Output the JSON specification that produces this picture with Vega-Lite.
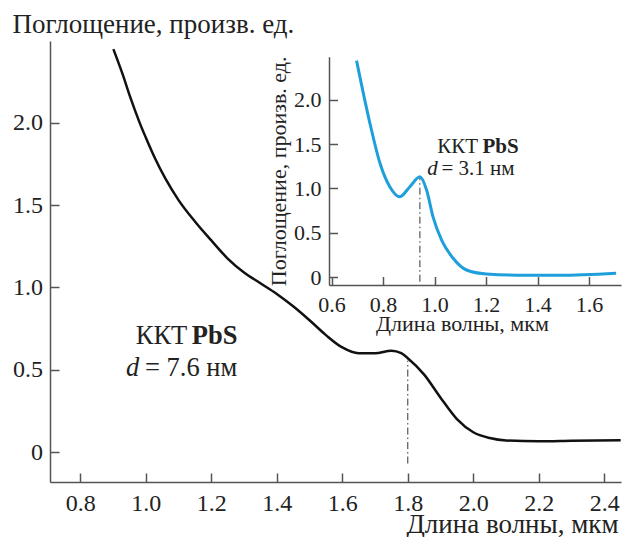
{
  "$schema": "https://vega.github.io/schema/vega-lite/v6.json",
  "width": 571,
  "height": 441,
  "autosize": {"type": "none"},
  "padding": {"left": 50, "top": 41, "right": 3, "bottom": 55},
  "background": "white",
  "config": {
    "view": {"stroke": null},
    "font": "Liberation Serif, DejaVu Serif, serif",
    "text": {"font": "Liberation Serif, DejaVu Serif, serif"},
    "axis": {
      "grid": false,
      "domainColor": "#555555",
      "tickColor": "#555555",
      "domainWidth": 1.5,
      "tickWidth": 1.5,
      "labelColor": "#222222",
      "titleColor": "#222222",
      "titleFontWeight": "normal",
      "labelFont": "Liberation Serif, DejaVu Serif, serif",
      "titleFont": "Liberation Serif, DejaVu Serif, serif"
    }
  },
  "datasets": {
    "main": [
      {"x": 0.901, "y": 2.447},
      {"x": 0.93, "y": 2.29},
      {"x": 0.952, "y": 2.158},
      {"x": 0.982, "y": 1.996},
      {"x": 1.0, "y": 1.91},
      {"x": 1.028, "y": 1.784},
      {"x": 1.06, "y": 1.66},
      {"x": 1.1, "y": 1.53},
      {"x": 1.15, "y": 1.4},
      {"x": 1.2, "y": 1.285},
      {"x": 1.25, "y": 1.175},
      {"x": 1.3, "y": 1.09},
      {"x": 1.35, "y": 1.025},
      {"x": 1.4, "y": 0.96},
      {"x": 1.45, "y": 0.885},
      {"x": 1.5, "y": 0.8},
      {"x": 1.55, "y": 0.71},
      {"x": 1.6, "y": 0.635},
      {"x": 1.65, "y": 0.6},
      {"x": 1.7, "y": 0.6},
      {"x": 1.75, "y": 0.615},
      {"x": 1.78, "y": 0.6},
      {"x": 1.8, "y": 0.57},
      {"x": 1.85, "y": 0.47},
      {"x": 1.9, "y": 0.33},
      {"x": 1.95, "y": 0.2},
      {"x": 2.0, "y": 0.12},
      {"x": 2.05, "y": 0.085},
      {"x": 2.1, "y": 0.07},
      {"x": 2.2, "y": 0.065},
      {"x": 2.3, "y": 0.068},
      {"x": 2.45, "y": 0.072}
    ],
    "inset": [
      {"x": 0.697, "y": 2.44},
      {"x": 0.749, "y": 1.734},
      {"x": 0.788, "y": 1.284},
      {"x": 0.826, "y": 1.02},
      {"x": 0.865, "y": 0.908},
      {"x": 0.904, "y": 1.02},
      {"x": 0.943, "y": 1.133},
      {"x": 0.969, "y": 0.983},
      {"x": 0.994, "y": 0.68},
      {"x": 1.027, "y": 0.42},
      {"x": 1.072, "y": 0.214},
      {"x": 1.124, "y": 0.082},
      {"x": 1.201, "y": 0.037},
      {"x": 1.356, "y": 0.022},
      {"x": 1.485, "y": 0.022},
      {"x": 1.705, "y": 0.045}
    ]
  },
  "layer": [
    {
      "layer": [
        {
          "data": {"name": "main"},
          "mark": {"type": "line", "color": "#111111", "strokeWidth": 2.5, "interpolate": "monotone"},
          "encoding": {
            "x": {
              "field": "x", "type": "quantitative",
              "scale": {"domain": [0.7075, 2.451], "zero": false, "nice": false},
              "axis": {
                "orient": "bottom",
                "values": [0.8, 1.0, 1.2, 1.4, 1.6, 1.8, 2.0, 2.2, 2.4],
                "format": ".1f",
                "tickSize": -9,
                "labelPadding": 18,
                "labelFontSize": 24,
                "title": "Длина волны, мкм",
                "titleFontSize": 27,
                "titleAlign": "right",
                "titleAnchor": null,
                "titleBaseline": "alphabetic",
                "titleX": 568,
                "titleY": 50
              }
            },
            "y": {
              "field": "y", "type": "quantitative",
              "scale": {"domain": [-0.182, 2.496], "zero": false, "nice": false},
              "axis": {
                "orient": "left",
                "values": [0, 0.5, 1.0, 1.5, 2.0],
                "labelExpr": "datum.value === 0 ? '0' : format(datum.value, '.1f')",
                "tickSize": -9,
                "labelPadding": 16.5,
                "labelFontSize": 24,
                "title": "Поглощение, произв. ед.",
                "titleFontSize": 27,
                "titleAngle": 0,
                "titleAlign": "left",
                "titleBaseline": "alphabetic",
                "titleX": -38,
                "titleY": -9
              }
            }
          }
        },
        {
          "data": {"values": [{"x": 1.8, "y": -0.07, "y2": 0.555}]},
          "mark": {"type": "rule", "color": "#333333", "strokeWidth": 1, "strokeDash": [7, 3, 1.5, 3]},
          "encoding": {
            "x": {"field": "x", "type": "quantitative"},
            "y": {"field": "y", "type": "quantitative"},
            "y2": {"field": "y2"}
          }
        },
        {
          "data": {"values": [{"x": 1.1267, "y": 0.6553, "label": "ККТ"}]},
          "mark": {"type": "text", "align": "right", "baseline": "alphabetic", "fontSize": 26.5, "color": "#222222"},
          "encoding": {
            "x": {"field": "x", "type": "quantitative"},
            "y": {"field": "y", "type": "quantitative"},
            "text": {"field": "label"}
          }
        },
        {
          "data": {"values": [{"x": 1.1402, "y": 0.6553, "label": "PbS"}]},
          "mark": {"type": "text", "align": "left", "baseline": "alphabetic", "fontSize": 26.5, "fontWeight": "bold", "color": "#222222"},
          "encoding": {
            "x": {"field": "x", "type": "quantitative"},
            "y": {"field": "y", "type": "quantitative"},
            "text": {"field": "label"}
          }
        },
        {
          "data": {"values": [{"x": 0.98, "y": 0.463, "label": "d"}]},
          "mark": {"type": "text", "align": "right", "baseline": "alphabetic", "fontSize": 26.5, "fontStyle": "italic", "color": "#222222"},
          "encoding": {
            "x": {"field": "x", "type": "quantitative"},
            "y": {"field": "y", "type": "quantitative"},
            "text": {"field": "label"}
          }
        },
        {
          "data": {"values": [{"x": 0.9976, "y": 0.463, "label": "= 7.6 нм"}]},
          "mark": {"type": "text", "align": "left", "baseline": "alphabetic", "fontSize": 26.5, "color": "#222222"},
          "encoding": {
            "x": {"field": "x", "type": "quantitative"},
            "y": {"field": "y", "type": "quantitative"},
            "text": {"field": "label"}
          }
        }
      ]
    },
    {
      "layer": [
        {
          "data": {"name": "inset"},
          "mark": {"type": "line", "color": "#1e9fdc", "strokeWidth": 3, "interpolate": "monotone"},
          "encoding": {
            "x": {
              "field": "x", "type": "quantitative",
              "scale": {"domain": [0.59, 1.724], "range": [279, 571], "zero": false, "nice": false},
              "axis": {
                "orient": "bottom",
                "offset": -197,
                "values": [0.6, 0.8, 1.0, 1.2, 1.4, 1.6],
                "format": ".1f",
                "tickSize": -8.5,
                "labelPadding": 17.5,
                "labelFontSize": 22,
                "title": "Длина волны, мкм",
                "titleFontSize": 22,
                "titleAlign": "center",
                "titleAnchor": null,
                "titleBaseline": "alphabetic",
                "titleX": 412,
                "titleY": 45
              }
            },
            "y": {
              "field": "y", "type": "quantitative",
              "scale": {"domain": [-0.087, 2.484], "range": [244, 15.7], "zero": false, "nice": false},
              "axis": {
                "orient": "left",
                "offset": -279,
                "values": [0, 0.5, 1.0, 1.5, 2.0],
                "labelExpr": "datum.value === 0 ? '0' : format(datum.value, '.1f')",
                "tickSize": -8.5,
                "labelPadding": 16.5,
                "labelFontSize": 22,
                "title": "Поглощение, произв. ед.",
                "titleFontSize": 22,
                "titlePadding": 3
              }
            }
          }
        },
        {
          "data": {"values": [{"x": 0.943, "y": -0.05, "y2": 1.115}]},
          "mark": {"type": "rule", "color": "#333333", "strokeWidth": 1, "strokeDash": [7, 3, 1.5, 3]},
          "encoding": {
            "x": {"field": "x", "type": "quantitative"},
            "y": {"field": "y", "type": "quantitative"},
            "y2": {"field": "y2"}
          }
        },
        {
          "data": {"values": [{"x": 1.1687, "y": 1.396, "label": "ККТ"}]},
          "mark": {"type": "text", "align": "right", "baseline": "alphabetic", "fontSize": 21, "color": "#222222"},
          "encoding": {
            "x": {"field": "x", "type": "quantitative"},
            "y": {"field": "y", "type": "quantitative"},
            "text": {"field": "label"}
          }
        },
        {
          "data": {"values": [{"x": 1.1857, "y": 1.396, "label": "PbS"}]},
          "mark": {"type": "text", "align": "left", "baseline": "alphabetic", "fontSize": 21, "fontWeight": "bold", "color": "#222222"},
          "encoding": {
            "x": {"field": "x", "type": "quantitative"},
            "y": {"field": "y", "type": "quantitative"},
            "text": {"field": "label"}
          }
        },
        {
          "data": {"values": [{"x": 1.0125, "y": 1.152, "label": "d"}]},
          "mark": {"type": "text", "align": "right", "baseline": "alphabetic", "fontSize": 21, "fontStyle": "italic", "color": "#222222"},
          "encoding": {
            "x": {"field": "x", "type": "quantitative"},
            "y": {"field": "y", "type": "quantitative"},
            "text": {"field": "label"}
          }
        },
        {
          "data": {"values": [{"x": 1.0268, "y": 1.152, "label": "= 3.1 нм"}]},
          "mark": {"type": "text", "align": "left", "baseline": "alphabetic", "fontSize": 21, "color": "#222222"},
          "encoding": {
            "x": {"field": "x", "type": "quantitative"},
            "y": {"field": "y", "type": "quantitative"},
            "text": {"field": "label"}
          }
        }
      ]
    }
  ],
  "resolve": {
    "scale": {"x": "independent", "y": "independent"},
    "axis": {"x": "independent", "y": "independent"}
  }
}
